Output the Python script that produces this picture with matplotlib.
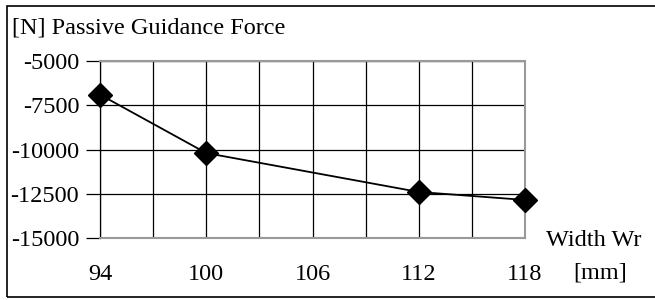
import matplotlib
matplotlib.use("Agg")
import matplotlib.pyplot as plt
from matplotlib.patches import Rectangle

width_mm = [94, 100, 112, 118]
force_N = [-6900, -10200, -12400, -12850]
xticks = [94, 100, 106, 112, 118]
yticks = [-5000, -7500, -10000, -12500, -15000]
title = "[N] Passive Guidance Force"
xlabel1 = "Width Wr"
xlabel2 = "[mm]"

plt.rcParams['font.family'] = ['Liberation Serif', 'DejaVu Serif']
W, H = 655, 300
fig = plt.figure(figsize=(W/100, H/100), dpi=100)
fs = 17.5

# outer border
fig.patches.append(Rectangle((7/W, 1-297/H), 1.2, (297-6)/H, transform=fig.transFigure,
                             fill=False, edgecolor='black', linewidth=1.2))

ax = fig.add_axes([100/W, 1-238/H, 425/W, 177/H])
ax.set_xlim(94, 118)
ax.set_ylim(-15000, -5000)
ax.set_xticks(xticks)
ax.set_xticks(range(94, 119, 3), minor=True)
ax.set_yticks(yticks)
ax.set_yticklabels([str(v) for v in yticks], fontsize=fs)
ax.set_xticklabels([str(v) for v in xticks], fontsize=fs)
ax.grid(True, which='both', axis='x', color='black', linewidth=0.9)
ax.grid(True, which='major', axis='y', color='black', linewidth=0.9)
ax.tick_params(axis='x', which='both', length=0, pad=19)
ax.tick_params(axis='y', length=10, width=0.9, pad=5)
for s in ['top', 'right', 'bottom']:
    ax.spines[s].set_color('#999999')
    ax.spines[s].set_linewidth(1.5)
ax.spines['left'].set_color('black')
ax.spines['left'].set_linewidth(0.9)

ax.plot(width_mm, force_N, color='black', linewidth=1.3, marker='D', markersize=12,
        markerfacecolor='black', markeredgecolor='black', clip_on=False, zorder=5)

fig.text(12/W, 1-28/H, title, fontsize=fs, va='center', ha='left')
fig.text(546/W, 1-240/H, xlabel1, fontsize=fs, va='center', ha='left')
fig.text(573/W, 1-273/H, xlabel2, fontsize=fs, va='center', ha='left')

fig.savefig("out.png", dpi=100)
